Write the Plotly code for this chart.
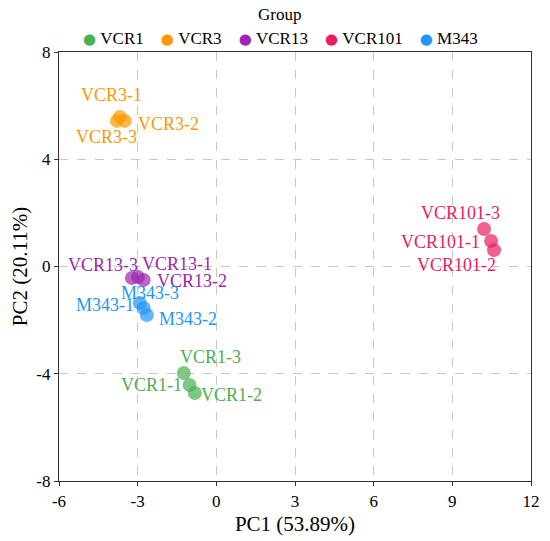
import plotly.graph_objects as go

# PCA scores
groups = ["VCR1", "VCR3", "VCR13", "VCR101", "M343"]
colors = ["#4CAF50", "#FF9800", "#9C27B0", "#E91E63", "#2196F3"]

sample_labels = {
    "VCR1": ["VCR1-1", "VCR1-2", "VCR1-3"],
    "VCR3": ["VCR3-1", "VCR3-2", "VCR3-3"],
    "VCR13": ["VCR13-1", "VCR13-2", "VCR13-3"],
    "VCR101": ["VCR101-1", "VCR101-2", "VCR101-3"],
    "M343": ["M343-1", "M343-2", "M343-3"],
}
pc1 = {
    "VCR1": [-1.02, -0.82, -1.24],
    "VCR3": [-3.68, -3.49, -3.79],
    "VCR13": [-2.99, -2.77, -3.22],
    "VCR101": [10.48, 10.59, 10.21],
    "M343": [-2.77, -2.65, -2.92],
}
pc2 = {
    "VCR1": [-4.42, -4.72, -3.97],
    "VCR3": [5.58, 5.43, 5.43],
    "VCR13": [-0.39, -0.50, -0.43],
    "VCR101": [0.95, 0.61, 1.40],
    "M343": [-1.55, -1.81, -1.36],
}
# label offsets from each point, in pixels (right, down)
label_offset = {
    "VCR1": [(-38, 0), (37, 2), (27, -16)],
    "VCR3": [(-8, -22), (44, 3), (-10, 16)],
    "VCR13": [(39, -13), (48, 1), (-29, -13)],
    "VCR101": [(-51, 1), (-38, 15), (-24, -16)],
    "M343": [(-39, -3), (41, 4), (10, -10)],
}

x_ticks = [-6, -3, 0, 3, 6, 9, 12]
y_ticks = [-8, -4, 0, 4, 8]

font_family = "Liberation Serif"

fig = go.Figure()
for g, c in zip(groups, colors):
    fig.add_trace(go.Scatter(
        x=pc1[g], y=pc2[g],
        mode="markers",
        name=g,
        marker=dict(color=c, size=14, opacity=0.7, line=dict(width=0)),
        showlegend=False,
    ))
    for xv, yv, lab, (dx, dy) in zip(pc1[g], pc2[g], sample_labels[g], label_offset[g]):
        fig.add_annotation(x=xv, y=yv, text=lab, showarrow=False,
                           xshift=dx, yshift=-dy,
                           font=dict(color=c, size=18, family=font_family))

axis_style = dict(showgrid=True, gridcolor="#c8c8c8", griddash="dash", gridwidth=1,
                  zeroline=False, showline=True, linecolor="#333333", linewidth=1.3,
                  mirror=True, ticks="outside", ticklen=4, tickcolor="#333333",
                  automargin=False,
                  tickfont=dict(size=17, family=font_family, color="black"))

fig.update_xaxes(range=[-6, 12], tickvals=x_ticks, ticktext=[str(v) for v in x_ticks],
                 title=dict(text="PC1 (53.89%)", font=dict(size=21, family=font_family), standoff=6),
                 **axis_style)
fig.update_yaxes(range=[-8, 8], tickvals=y_ticks, ticktext=[str(v) for v in y_ticks],
                 title=dict(text="PC2 (20.11%)", font=dict(size=21, family=font_family), standoff=6),
                 **axis_style)

# legend drawn as a text line: coloured dot + group name
gap = "&nbsp;" * 4
legend_text = gap.join(
    f"<span style='color:{c};font-family:DejaVu Sans;font-size:15px'>●</span>&nbsp;{g}"
    for g, c in zip(groups, colors)
)
fig.add_annotation(text="Group", xref="paper", yref="paper", x=0.468, y=1.0,
                   yanchor="middle", yshift=38, showarrow=False,
                   font=dict(size=17, family=font_family))
fig.add_annotation(text=legend_text, xref="paper", yref="paper", x=0.47, y=1.0,
                   yanchor="middle", yshift=14, showarrow=False,
                   font=dict(size=17, family=font_family))

fig.update_layout(
    width=542, height=533,
    margin=dict(l=51, r=19, t=44, b=60),
    plot_bgcolor="white", paper_bgcolor="white",
    font=dict(family=font_family, color="black"),
)

fig.write_html("out.html")
